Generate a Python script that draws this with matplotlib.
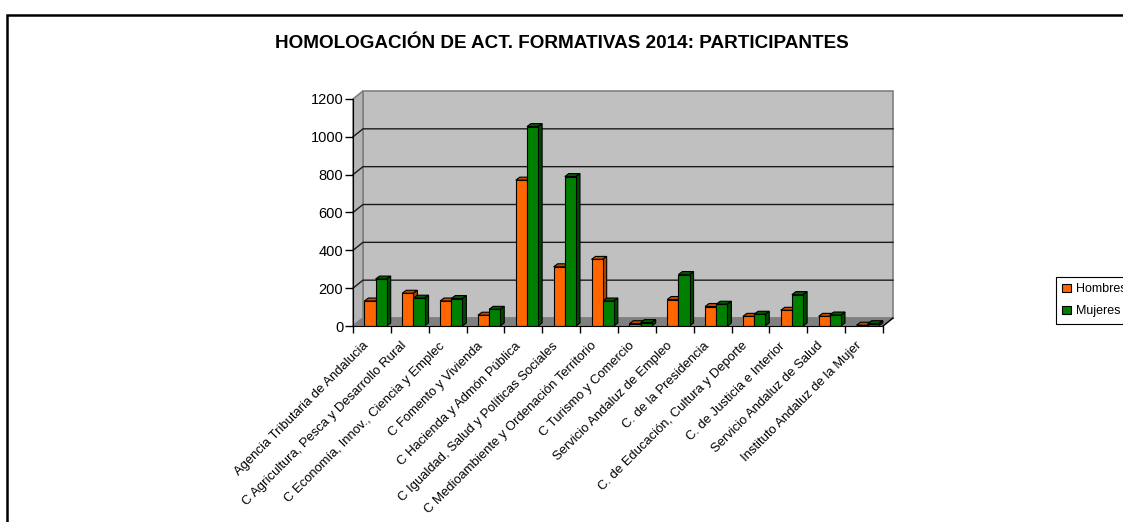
import matplotlib
matplotlib.use('Agg')
import matplotlib.pyplot as plt
from matplotlib.patches import Polygon, Rectangle
from matplotlib.transforms import ScaledTranslation
import numpy as np

plt.rcParams['font.family'] = ['Liberation Sans', 'DejaVu Sans']

# chart data
categories = [
    'Agencia Tributaria de Andalucia',
    'C Agricultura, Pesca y Desarrollo Rural',
    'C Economía, Innov., Ciencia y Emplec',
    'C Fomento y Vivienda',
    'C Hacienda y Admón Pública',
    'C Igualdad, Salud y Políticas Sociales',
    'C Medioambiente y Ordenación Territorio',
    'C Turismo y Comercio',
    'Servicio Andaluz de Empleo',
    'C. de la Presidencia',
    'C. de Educación, Cultura y Deporte',
    'C. de Justicia e Interior',
    'Servicio Andaluz de Salud',
    'Instituto Andaluz de la Mujer',
]
hombres = [132, 173, 132, 57, 771, 313, 352, 12, 140, 103, 51, 83, 51, 4]
mujeres = [248, 147, 145, 88, 1054, 790, 132, 18, 272, 115, 62, 166, 58, 12]
yticks = [0, 200, 400, 600, 800, 1000, 1200]

W, H = 1123, 522
fig = plt.figure(figsize=(W / 100, H / 100), dpi=100)

# plot area in pixels (front plane)
x0, x1 = 353, 883
y0, y1 = 326, 99
ax = fig.add_axes([x0 / W, 1 - y0 / H, (x1 - x0) / W, (y0 - y1) / H])
n = len(categories)
ymax = 1200
ax.set_xlim(0, n)
ax.set_ylim(0, ymax)

px_x = n / (x1 - x0)          # data units per pixel (x)
px_y = ymax / (y0 - y1)       # data units per pixel (y)
wdx, wdy = 10 * px_x, 8 * px_y   # depth of the walls
bdx, bdy = 4 * px_x, 3 * px_y    # depth of the bars

# walls and floor
ax.add_patch(Polygon([(wdx, wdy), (n + wdx, wdy), (n + wdx, ymax + wdy), (wdx, ymax + wdy)],
                     closed=True, fc='#c0c0c0', ec='#808080', lw=1.2, clip_on=False, zorder=0))
ax.add_patch(Polygon([(0, 0), (wdx, wdy), (wdx, ymax + wdy), (0, ymax)],
                     closed=True, fc='#b4b4b4', ec='#808080', lw=1.2, clip_on=False, zorder=0))
ax.add_patch(Polygon([(0, 0), (n, 0), (n + wdx, wdy), (wdx, wdy)],
                     closed=True, fc='#808080', ec='#808080', lw=1, clip_on=False, zorder=0.5))
for v in yticks[1:-1]:
    ax.plot([0, wdx, n + wdx], [v, v + wdy, v + wdy], color='#1a1a1a', lw=1,
            clip_on=False, zorder=0.6)
ax.plot([n, n + wdx], [0, wdy], color='black', lw=1, clip_on=False, zorder=0.6)

bw = 0.295
xs = np.arange(n)


def bars3d(xleft, vals, front, top, side):
    ax.bar(xleft, vals, width=bw, align='edge', color=front, edgecolor='black',
           linewidth=0.8, zorder=2)
    for x, v in zip(xleft, vals):
        ax.add_patch(Polygon([(x, v), (x + bdx, v + bdy), (x + bw + bdx, v + bdy), (x + bw, v)],
                             closed=True, fc=top, ec='black', lw=0.8, zorder=1.5, clip_on=False))
        ax.add_patch(Polygon([(x + bw, 0), (x + bw + bdx, bdy), (x + bw + bdx, v + bdy), (x + bw, v)],
                             closed=True, fc=side, ec='black', lw=0.8, zorder=1.5, clip_on=False))


bars3d(xs + 0.30, hombres, '#ff6600', '#c04c00', '#a84200')
bars3d(xs + 0.30 + bw, mujeres, '#008000', '#005a00', '#004800')

# axes styling
for s in ['top', 'right']:
    ax.spines[s].set_visible(False)
ax.spines['left'].set_color('black')
ax.spines['bottom'].set_color('black')
ax.patch.set_visible(False)
ax.set_yticks(yticks)
ax.tick_params(axis='y', length=6, width=1, labelsize=10.5, pad=1)
ax.set_xticks(np.arange(n + 1))
ax.set_xticklabels([])
ax.tick_params(axis='x', which='major', length=5, width=1)
ax.set_xticks(xs + 0.5, minor=True)
ax.set_xticklabels(categories, minor=True, rotation=45, ha='right',
                   rotation_mode='anchor', fontsize=9.4)
ax.tick_params(axis='x', which='minor', length=0, pad=10)
shift = ScaledTranslation(-0.09, 0, fig.dpi_scale_trans)
for lab in ax.get_xticklabels(minor=True):
    lab.set_transform(lab.get_transform() + shift)

# title
fig.text(0.5, 1 - 44 / H, 'HOMOLOGACIÓN DE ACT. FORMATIVAS 2014: PARTICIPANTES',
         ha='center', va='center', fontsize=13.6, fontweight='bold')

# legend (runs past the right edge as in the reference)
h1 = Rectangle((0, 0), 1, 1, fc='#ff6600', ec='black', lw=0.8)
h2 = Rectangle((0, 0), 1, 1, fc='#008000', ec='black', lw=0.8)
fig.legend([h1, h2], ['Hombres', 'Mujeres'], loc='upper left',
           bbox_to_anchor=(1056 / W, 1 - 277 / H), borderaxespad=0,
           fancybox=False, edgecolor='black', fontsize=9, handlelength=0.7,
           handleheight=0.7, handletextpad=0.4, labelspacing=0.8,
           borderpad=0.5, framealpha=1)
fig.legends[0].get_frame().set_linewidth(0.8)

# outer chart frame
fig.add_artist(Rectangle((7 / W, -0.2), 2, 1.2 - 15 / H, transform=fig.transFigure,
                         fill=False, ec='black', lw=1.8, zorder=-1))

fig.savefig('out.png', dpi=100)
